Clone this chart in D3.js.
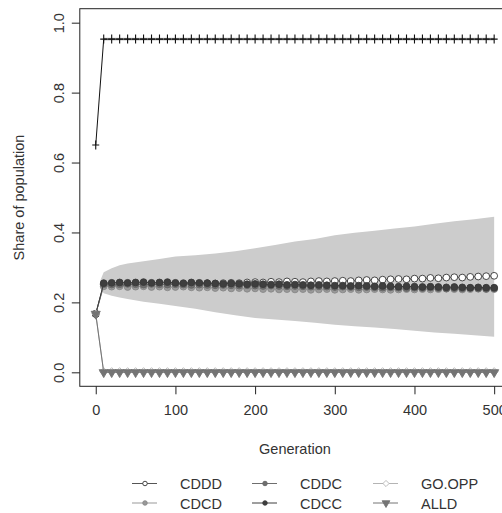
<!DOCTYPE html>
<html>
<head>
<meta charset="utf-8">
<script src="https://cdn.jsdelivr.net/npm/d3@7"></script>
<style>
  html, body { margin: 0; padding: 0; background: #fff; }
  svg { display: block; font-family: "Liberation Sans", Arial, sans-serif; }
</style>
</head>
<body>
<svg id="chart" width="502" height="513"></svg>
<script>
// Generations at which the strategy shares are recorded (every 10th)
const generations = d3.range(0, 501, 10);

// Mean share of each strategy in the population
const cddd = [0.167,
  0.250,0.251,0.249,0.250,0.252,0.251,0.250,0.252,0.251,0.253,0.252,0.254,0.253,0.255,0.254,
  0.255,0.256,0.255,0.257,0.258,0.257,0.259,0.258,0.260,0.259,0.258,0.260,0.261,0.260,0.261,
  0.262,0.261,0.263,0.264,0.263,0.265,0.266,0.267,0.266,0.268,
  0.268,0.270,0.269,0.271,0.272,0.271,0.273,0.274,0.275,0.276];
const cdcd = [0.167,
  0.246,0.245,0.246,0.244,0.245,0.246,0.244,0.245,0.243,0.244,0.245,0.243,0.242,0.243,0.241,
  0.242,0.240,0.241,0.239,0.240,0.238,0.239,0.237,0.238,0.237,0.238,0.236,0.237,0.238,0.236,
  0.237,0.238,0.236,0.237,0.238,0.237,0.236,0.237,0.238,0.237,
  0.238,0.237,0.238,0.239,0.238,0.237,0.238,0.239,0.238,0.238];
const cddc = [0.167,
  0.252,0.251,0.252,0.253,0.252,0.251,0.253,0.252,0.251,0.252,0.251,0.250,0.251,0.250,0.249,
  0.250,0.249,0.248,0.249,0.248,0.247,0.248,0.247,0.246,0.247,0.246,0.245,0.246,0.245,0.244,
  0.245,0.244,0.243,0.244,0.243,0.242,0.243,0.242,0.241,0.242,
  0.241,0.242,0.241,0.240,0.241,0.240,0.241,0.240,0.239,0.240];
const cdcc = [0.167,
  0.255,0.256,0.257,0.256,0.257,0.258,0.256,0.257,0.258,0.256,0.255,0.257,0.256,0.255,0.254,
  0.253,0.254,0.253,0.252,0.253,0.252,0.251,0.252,0.250,0.251,0.250,0.249,0.250,0.249,0.248,
  0.248,0.247,0.248,0.247,0.246,0.247,0.246,0.245,0.246,0.245,
  0.244,0.245,0.244,0.243,0.244,0.243,0.242,0.243,0.242,0.242];
const goOpp = [0.167].concat(Array(50).fill(0.002));
const alld  = [0.167].concat(Array(50).fill(0.0));

// Share of cooperative moves
const cooperation = [0.65].concat(Array(50).fill(0.953));
const coopLow  = 0.949;
const coopHigh = 0.957;

// Spread of the strategy shares across runs
const bandGen   = [6, 10, 20, 30, 40, 60, 80, 100, 125, 150, 175, 200, 225, 250, 275, 300, 325, 350, 375, 400, 425, 450, 475, 500];
const bandUpper = [0.264, 0.286, 0.298, 0.306, 0.311, 0.318, 0.324, 0.331, 0.335, 0.340, 0.346, 0.355, 0.364, 0.374, 0.381, 0.392, 0.399, 0.405, 0.411, 0.417, 0.425, 0.432, 0.438, 0.445];
const bandLower = [0.240, 0.226, 0.219, 0.214, 0.210, 0.202, 0.196, 0.190, 0.182, 0.172, 0.163, 0.155, 0.151, 0.147, 0.142, 0.136, 0.132, 0.128, 0.124, 0.119, 0.114, 0.110, 0.106, 0.102];

const xTicks = [0, 100, 200, 300, 400, 500];
const yTicks = [0.0, 0.2, 0.4, 0.6, 0.8, 1.0];

const strategies = [
  { name: "CDDD",   values: cddd,  shape: "circle",   fill: "#ffffff", stroke: "#333333", line: "#555555" },
  { name: "CDCD",   values: cdcd,  shape: "circle",   fill: "#999999", stroke: "#888888", line: "#999999" },
  { name: "CDDC",   values: cddc,  shape: "circle",   fill: "#6e6e6e", stroke: "#666666", line: "#6e6e6e" },
  { name: "CDCC",   values: cdcc,  shape: "circle",   fill: "#3e3e3e", stroke: "#3a3a3a", line: "#3e3e3e" },
  { name: "GO.OPP", values: goOpp, shape: "diamond",  fill: "#ffffff", stroke: "#b4b4b4", line: "#b4b4b4" },
  { name: "ALLD",   values: alld,  shape: "triangle", fill: "#747474", stroke: "#747474", line: "#747474" }
];

const svg = d3.select("#chart");
const x = d3.scaleLinear().domain([-20, 520]).range([79.8, 510.1]);
const y = d3.scaleLinear().domain([-0.04, 1.04]).range([386.3, 8.7]);
const textColor = "#333";

function symbolPath(shape, size) {
  const t = shape === "circle" ? d3.symbolCircle
          : shape === "diamond" ? d3.symbolDiamond2
          : d3.symbolTriangle;
  return d3.symbol().type(t).size(size)();
}
// downward triangle for ALLD
function markerTransform(shape) {
  return shape === "triangle" ? " rotate(180)" : "";
}

// spread band
const area = d3.area()
  .x((d, i) => x(bandGen[i]))
  .y0((d, i) => y(bandLower[i]))
  .y1((d, i) => y(bandUpper[i]));
svg.append("path").datum(bandGen).attr("d", area).attr("fill", "#cccccc");

// thin band behind the cooperation line
svg.append("rect")
  .attr("x", x(10)).attr("width", x(500) - x(10))
  .attr("y", y(coopHigh)).attr("height", y(coopLow) - y(coopHigh))
  .attr("fill", "#c8c8c8");

// cooperation line with plus markers
const line = d3.line().x((d, i) => x(generations[i])).y(d => y(d));
svg.append("path").datum(cooperation).attr("d", line)
  .attr("fill", "none").attr("stroke", "#111").attr("stroke-width", 1);
svg.append("g").selectAll("path").data(cooperation).join("path")
  .attr("transform", (d, i) => `translate(${x(generations[i])},${y(d)})`)
  .attr("d", "M-3.5,0H3.5M0,-4.5V4.5")
  .attr("stroke", "#111").attr("stroke-width", 1.1).attr("fill", "none");

// strategy series
strategies.forEach(s => {
  svg.append("path").datum(s.values).attr("d", line)
    .attr("fill", "none").attr("stroke", s.line).attr("stroke-width", 1);
  const size = s.shape === "circle" ? 36 : s.shape === "diamond" ? 40 : 36;
  svg.append("g").selectAll("path").data(s.values).join("path")
    .attr("transform", (d, i) => `translate(${x(generations[i])},${y(d)})${markerTransform(s.shape)}`)
    .attr("d", symbolPath(s.shape, size))
    .attr("fill", s.fill).attr("stroke", s.stroke).attr("stroke-width", 0.9);
});

// plot frame
svg.append("rect")
  .attr("x", x(-20)).attr("y", y(1.04))
  .attr("width", x(520) - x(-20)).attr("height", y(-0.04) - y(1.04))
  .attr("fill", "none").attr("stroke", "#222").attr("stroke-width", 1);

// x axis
const xAxis = svg.append("g").attr("transform", `translate(0,${y(-0.04)})`)
  .call(d3.axisBottom(x).tickValues(xTicks).tickSize(8).tickPadding(10).tickFormat(d3.format("d")));
xAxis.select(".domain").remove();
xAxis.selectAll("line").attr("stroke", "#222");
xAxis.selectAll("text").attr("fill", textColor).attr("font-size", 14.5)
  .attr("font-family", "'Liberation Sans', Arial, sans-serif");

// y axis with labels parallel to the axis
const yAxis = svg.append("g").attr("transform", `translate(${x(-20)},0)`)
  .call(d3.axisLeft(y).tickValues(yTicks).tickSize(8).tickFormat(d3.format(".1f")));
yAxis.select(".domain").remove();
yAxis.selectAll("line").attr("stroke", "#222");
yAxis.selectAll("text")
  .attr("fill", textColor).attr("font-size", 14.5)
  .attr("font-family", "'Liberation Sans', Arial, sans-serif")
  .attr("x", null).attr("dy", null)
  .attr("text-anchor", "middle")
  .attr("transform", "translate(-21,0) rotate(-90) translate(0,5)");

// axis titles
svg.append("text")
  .attr("x", (x(-20) + x(520)) / 2).attr("y", 454)
  .attr("text-anchor", "middle").attr("font-size", 14.5).attr("fill", textColor)
  .text("Generation");
svg.append("text")
  .attr("transform", `translate(24,${(y(1.04) + y(-0.04)) / 2}) rotate(-90)`)
  .attr("text-anchor", "middle").attr("font-size", 14.5).attr("fill", textColor)
  .text("Share of population");

// legend: three columns, two rows
const legendOrder = ["CDDD", "CDDC", "GO.OPP", "CDCD", "CDCC", "ALLD"];
const colX = [132, 252, 373];
const rowY = [483.5, 503];
legendOrder.forEach((name, k) => {
  const s = strategies.find(v => v.name === name);
  const cx = colX[k % 3], cy = rowY[Math.floor(k / 3)];
  const g = svg.append("g").attr("transform", `translate(${cx},${cy})`);
  g.append("line").attr("x1", 0).attr("x2", 25).attr("y1", 0).attr("y2", 0)
    .attr("stroke", s.line).attr("stroke-width", 1);
  const size = s.shape === "circle" ? 16 : s.shape === "diamond" ? 24 : 26;
  g.append("path").attr("transform", "translate(13,0)" + markerTransform(s.shape))
    .attr("d", symbolPath(s.shape, size))
    .attr("fill", s.fill).attr("stroke", s.stroke).attr("stroke-width", 0.9);
  g.append("text").attr("x", 48).attr("y", 5.5)
    .attr("font-size", 14.5).attr("fill", textColor).text(name);
});
</script>
</body>
</html>
